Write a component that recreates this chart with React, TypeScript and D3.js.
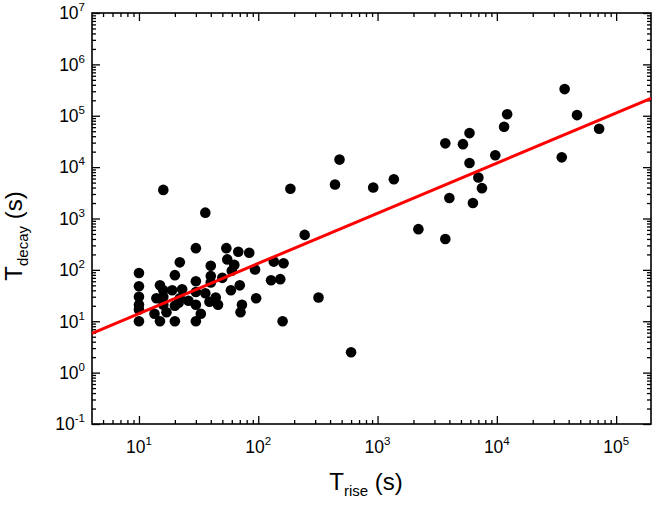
import React, { useEffect, useRef } from 'react';
import * as d3 from 'd3';

// Values (seconds)
const riseTimes = [
  16, 36, 186, 30, 54, 68, 84, 22, 55, 40,
  63, 135, 163, 10, 20, 40, 60, 94, 50, 30,
  40, 128, 153, 10, 15, 16, 19, 23, 70, 59,
  10, 14, 16, 30, 36, 22, 26, 44, 39, 96,
  10, 10, 16, 20, 21.5, 30, 46, 73, 13.5, 17,
  33, 71, 10, 15, 20, 30, 160,
  480, 440, 920, 1370, 245, 2200, 3700, 320, 600, 3700,
  5200, 5900, 5900, 9700, 7000, 7500, 4000, 6300, 11500, 12200,
  37000, 47000, 72000, 35000,
];

const decayTimes = [
  3600, 1300, 3800, 265, 265, 225, 215, 140, 160, 120,
  125, 145, 135, 87, 79, 76, 96, 102, 70, 60,
  57, 63, 66, 48, 50, 40, 40, 42, 50, 40,
  30, 28, 30, 37, 35, 28, 25, 29, 24, 28,
  21, 17, 21, 20, 23, 21, 21, 21, 14, 15,
  14, 15, 10, 10, 10, 10, 10,
  14000, 4600, 4000, 5800, 480, 620, 400, 29, 2.5, 29000,
  28000, 46000, 12000, 17000, 6300, 3900, 2500, 2000, 61000, 107000,
  330000, 103000, 56000, 15500,
];

// log10(Tdecay) = fitIntercept + fitSlope * log10(Trise)
const fitIntercept = 0.174;
const fitSlope = 0.976;

const xDomain: [number, number] = [4.04, 196000];
const yDomain: [number, number] = [0.1, 1e7];
const xTickExponents = [1, 2, 3, 4, 5];
const yTickExponents = [-1, 0, 1, 2, 3, 4, 5, 6, 7];

const W = 652;
const H = 507;
const margin = { top: 13, right: 1, bottom: 83, left: 92 };
const FONT = '"Liberation Sans", Arial, Helvetica, sans-serif';

const minorTicks = (domain: [number, number]) => {
  const out: number[] = [];
  const lo = Math.floor(Math.log10(domain[0]));
  const hi = Math.ceil(Math.log10(domain[1]));
  for (let e = lo; e <= hi; e++) {
    for (let k = 2; k <= 9; k++) {
      const v = k * Math.pow(10, e);
      if (v >= domain[0] && v <= domain[1]) out.push(v);
    }
  }
  return out;
};

export default function App() {
  const svgRef = useRef<SVGSVGElement>(null);

  useEffect(() => {
    if (!svgRef.current) return;
    const svg = d3.select(svgRef.current);
    svg.selectAll('*').remove();

    const innerW = W - margin.left - margin.right;
    const innerH = H - margin.top - margin.bottom;

    const x = d3.scaleLog().domain(xDomain).range([0, innerW]);
    const y = d3.scaleLog().domain(yDomain).range([innerH, 0]);

    svg.append('defs')
      .append('clipPath')
      .attr('id', 'plot-clip')
      .append('rect')
      .attr('width', innerW)
      .attr('height', innerH);

    const g = svg.append('g')
      .attr('transform', `translate(${margin.left},${margin.top})`);

    const xMajor = xTickExponents.map((e) => Math.pow(10, e));
    const yMajor = yTickExponents.map((e) => Math.pow(10, e));
    const xMinor = minorTicks(xDomain);
    const yMinor = minorTicks(yDomain);

    // inward ticks on all four sides
    const addAxis = (axis: d3.Axis<d3.NumberValue>, transform: string) => {
      const a = g.append('g').attr('transform', transform).call(axis);
      a.select('.domain').remove();
      a.selectAll('text').remove();
      a.selectAll('line').attr('stroke', '#000').attr('stroke-width', 1.3);
    };
    addAxis(d3.axisBottom(x).tickValues(xMajor).tickSize(-8), `translate(0,${innerH})`);
    addAxis(d3.axisBottom(x).tickValues(xMinor).tickSize(-4), `translate(0,${innerH})`);
    addAxis(d3.axisTop(x).tickValues(xMajor).tickSize(-8), 'translate(0,0)');
    addAxis(d3.axisTop(x).tickValues(xMinor).tickSize(-4), 'translate(0,0)');
    addAxis(d3.axisLeft(y).tickValues(yMajor).tickSize(-8), 'translate(0,0)');
    addAxis(d3.axisLeft(y).tickValues(yMinor).tickSize(-4), 'translate(0,0)');
    addAxis(d3.axisRight(y).tickValues(yMajor).tickSize(-8), `translate(${innerW},0)`);
    addAxis(d3.axisRight(y).tickValues(yMinor).tickSize(-4), `translate(${innerW},0)`);

    // frame
    g.append('rect')
      .attr('width', innerW)
      .attr('height', innerH)
      .attr('fill', 'none')
      .attr('stroke', '#000')
      .attr('stroke-width', 1.6);

    // points
    const points = riseTimes.map((r, i) => ({ r, d: decayTimes[i] }));
    g.append('g')
      .selectAll('circle')
      .data(points)
      .enter()
      .append('circle')
      .attr('cx', (p) => x(p.r))
      .attr('cy', (p) => y(p.d))
      .attr('r', 5.3)
      .attr('fill', '#000');

    // fit line
    const fitX = [xDomain[0], xDomain[1]];
    const line = d3.line<number>()
      .x((v) => x(v))
      .y((v) => y(Math.pow(10, fitIntercept + fitSlope * Math.log10(v))));
    g.append('path')
      .datum(fitX)
      .attr('d', line)
      .attr('clip-path', 'url(#plot-clip)')
      .attr('fill', 'none')
      .attr('stroke', '#ff0000')
      .attr('stroke-width', 3);

    // tick labels
    xTickExponents.forEach((e) => {
      const t = svg.append('text')
        .attr('x', margin.left + x(Math.pow(10, e)))
        .attr('y', margin.top + innerH + 29)
        .attr('text-anchor', 'middle')
        .style('font-family', FONT)
        .style('font-size', '17.5px')
        .attr('fill', '#000');
      t.append('tspan').text('10');
      t.append('tspan').attr('dy', -8).style('font-size', '11.5px').text(String(e));
    });

    yTickExponents.forEach((e) => {
      const t = svg.append('text')
        .attr('x', 85)
        .attr('y', margin.top + y(Math.pow(10, e)) + 6.3)
        .attr('text-anchor', 'end')
        .style('font-family', FONT)
        .style('font-size', '17.5px')
        .attr('fill', '#000');
      t.append('tspan').text('10');
      t.append('tspan').attr('dy', -8).style('font-size', '11.5px').text(String(e));
    });

    // axis titles
    const xt = svg.append('text')
      .attr('x', 366)
      .attr('y', 490)
      .attr('text-anchor', 'middle')
      .style('font-family', FONT)
      .style('font-size', '24px')
      .attr('fill', '#000');
    xt.append('tspan').text('T');
    xt.append('tspan').attr('dy', 6).style('font-size', '15px').text('rise');
    xt.append('tspan').attr('dy', -6).text(' (s)');

    const yt = svg.append('text')
      .attr('transform', `translate(22,236) rotate(-90)`)
      .attr('text-anchor', 'middle')
      .style('font-family', FONT)
      .style('font-size', '24px')
      .attr('fill', '#000');
    yt.append('tspan').text('T');
    yt.append('tspan').attr('dy', 6).style('font-size', '15px').text('decay');
    yt.append('tspan').attr('dy', -6).text(' (s)');
  }, []);

  return (
    <svg
      ref={svgRef}
      width={W}
      height={H}
      style={{ position: 'absolute', left: 0, top: 0, background: '#fff' }}
    />
  );
}
